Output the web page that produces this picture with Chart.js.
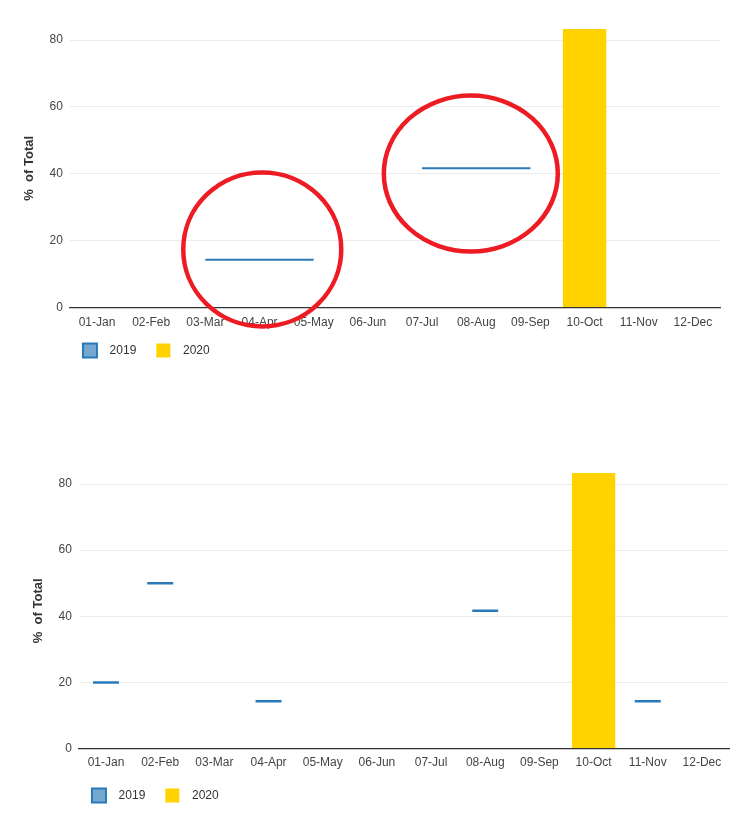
<!DOCTYPE html>
<html>
<head>
<meta charset="utf-8">
<script src="https://cdn.jsdelivr.net/npm/chart.js@4.4.1/dist/chart.umd.min.js"></script>
<style>
  body { margin: 0; background: #fff; }
  .box { position: absolute; width: 737px; }
  #wrapTop { left: 0; top: 0; height: 382px; }
  #wrapBottom { left: 9px; top: 444px; height: 377px; }
</style>
</head>
<body>
<div class="box" id="wrapTop"><canvas id="chartTop"></canvas></div>
<div class="box" id="wrapBottom"><canvas id="chartBottom"></canvas></div>
<script>
const months = ['01-Jan', '02-Feb', '03-Mar', '04-Apr', '05-May', '06-Jun',
                '07-Jul', '08-Aug', '09-Sep', '10-Oct', '11-Nov', '12-Dec'];
const yTicks = [0, 20, 40, 60, 80];

// top chart: 2019 spans several months
const top2019 = [null, null, 14.29, 14.29, 14.29, null, 41.67, 41.67, 41.67, null, null, null];
const top2020 = [null, null, null, null, null, null, null, null, null, 83.33, null, null];

// bottom chart: 2019 one value per month
const bottom2019 = [20, 50, null, 14.29, null, null, null, 41.67, null, null, 14.29, null];
const bottom2020 = [null, null, null, null, null, null, null, null, null, 83.33, null, null];

// red hand-drawn rings on the top chart (month index, value, radii)
const rings = [
    { at: 3.05, value: 17.4, rx: 79, ry: 77 },
    { at: 6.9, value: 40.1, rx: 87, ry: 78 }
];

const blue = '#2a7ab9';
const blueFill = 'rgba(42,122,185,0.65)';
const yellow = '#ffd200';
const font = "'Liberation Sans', Arial, sans-serif";

const ringPlugin = {
    id: 'rings',
    afterDatasetsDraw(chart, args, opts) {
        if (!opts.list) return;
        const ctx = chart.ctx;
        const x = chart.scales.x, y = chart.scales.y;
        ctx.save();
        ctx.strokeStyle = '#ed1c24';
        ctx.lineWidth = 4.5;
        opts.list.forEach(r => {
            ctx.beginPath();
            ctx.ellipse(x.getPixelForValue(r.at), y.getPixelForValue(r.value), r.rx, r.ry, 0, 0, Math.PI * 2);
            ctx.stroke();
        });
        ctx.restore();
    }
};

const legendShift = {
    id: 'legendShift',
    afterLayout(chart, args, opts) {
        const lg = chart.legend;
        const pad = lg.options.labels.padding;
        const dx = chart.chartArea.left + 13 - pad - lg.left;
        const dy = chart.chartArea.bottom + opts.gap - 7 - pad - lg.top;
        lg.left += dx; lg.right += dx;
        lg.top += dy; lg.bottom += dy;
    }
};

function makeChart(id, data2019, data2020, isLine, ringList, legendGap, tickPad) {
    const yMax = Math.max(...data2020.filter(v => v != null), ...data2019.filter(v => v != null));
    const ds2019 = isLine
        ? { type: 'line', label: '2019', data: data2019, borderColor: blue, backgroundColor: blueFill,
            borderWidth: 2, pointRadius: 0, spanGaps: false, order: 0 }
        : { type: 'line', label: '2019', data: data2019, borderColor: blue, backgroundColor: blueFill,
            borderWidth: 2, showLine: false, pointStyle: 'line', pointRadius: 13, pointBorderWidth: 2.5,
            pointHoverRadius: 13, order: 0 };
    return new Chart(document.getElementById(id), {
        type: 'bar',
        data: {
            labels: months,
            datasets: [
                ds2019,
                { type: 'bar', label: '2020', data: data2020, backgroundColor: yellow, borderWidth: 0,
                  categoryPercentage: 0.8, barPercentage: 1, order: 1 }
            ]
        },
        options: {
            responsive: true,
            maintainAspectRatio: false,
            animation: false,
            layout: { padding: { left: 18, right: 17, top: 29, bottom: 0 } },
            scales: {
                x: {
                    grid: { display: false, drawTicks: false },
                    border: { display: true, color: '#333', width: 1.2 },
                    ticks: { color: '#444', font: { family: font, size: 12 }, padding: tickPad, maxRotation: 0, autoSkip: false }
                },
                y: {
                    min: 0,
                    max: yMax,
                    border: { display: false },
                    grid: { color: '#ebebeb', drawTicks: false },
                    ticks: {
                        stepSize: 20, includeBounds: false, padding: 7,
                        color: '#444', font: { family: font, size: 12 },
                        callback: v => yTicks.includes(v) ? v : ''
                    },
                    title: {
                        display: true, text: '%  of Total', color: '#333',
                        font: { family: font, size: 13, weight: 'bold' },
                        padding: { top: 4, bottom: 5 }
                    }
                }
            },
            plugins: {
                legend: {
                    position: 'bottom',
                    align: 'start',
                    labels: {
                        boxWidth: 14, boxHeight: 14, padding: 20,
                        color: '#333', font: { family: font, size: 12 },
                        generateLabels(chart) {
                            return Chart.defaults.plugins.legend.labels.generateLabels(chart)
                                .map(l => Object.assign(l, { text: '  ' + l.text }));
                        }
                    }
                },
                tooltip: { enabled: false },
                rings: { list: ringList },
                legendShift: { gap: legendGap }
            }
        },
        plugins: [ringPlugin, legendShift]
    });
}

makeChart('chartTop', top2019, top2020, true, rings, 43, 8);
makeChart('chartBottom', bottom2019, bottom2020, false, null, 47, 7);
</script>
</body>
</html>
